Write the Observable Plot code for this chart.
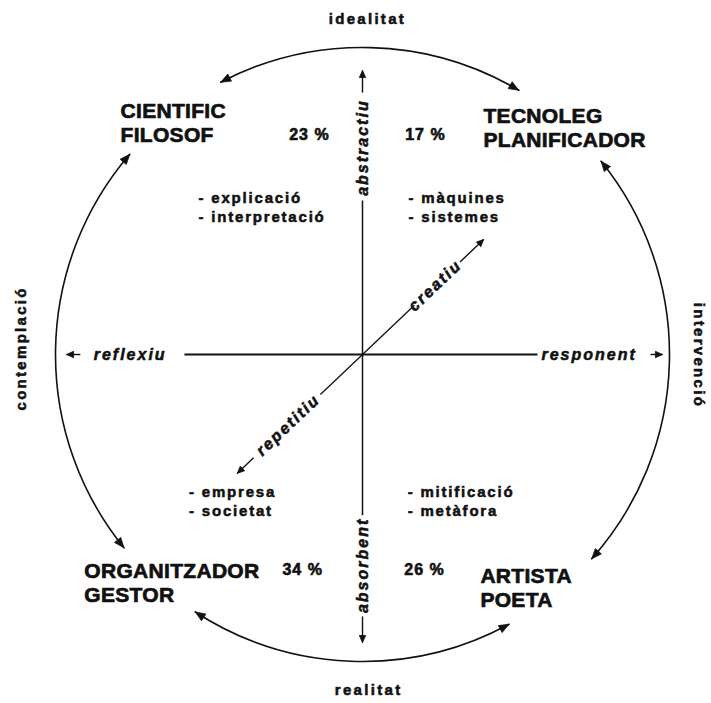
<!DOCTYPE html>
<html>
<head>
<meta charset="utf-8">
<script src="https://cdn.jsdelivr.net/npm/d3@7"></script>
<script src="https://cdn.jsdelivr.net/npm/@observablehq/plot@0.6"></script>
<style>
  html, body { margin: 0; padding: 0; background: #fff; }
  #chart { width: 711px; height: 703px; overflow: hidden; }
</style>
</head>
<body>
<div id="chart"></div>
<script>
// ---------------- DATA ----------------
const roles = ["CIENTIFIC\nFILOSOF", "TECNOLEG\nPLANIFICADOR", "ORGANITZADOR\nGESTOR", "ARTISTA\nPOETA"];
const percentages = [23, 17, 34, 26];
const activities = [
  ["explicació", "interpretació"],
  ["màquines", "sistemes"],
  ["empresa", "societat"],
  ["mitificació", "metàfora"]
];
const positivePoles = ["abstractiu", "responent", "creatiu"];
const negativePoles = ["absorbent", "reflexiu", "repetitiu"];
const cycleLabels = ["idealitat", "intervenció", "realitat", "contemplació"];

// ---------------- LAYOUT (unit-circle coordinates: centre 0,0, radius 1, y up) ----------------
const quadLayout = [
  {tx: -0.788, ty: 0.756, px: -0.173, py: 0.717, kx: -0.534, ky: 0.482},
  {tx: 0.394, ty: 0.739, px: 0.205, py: 0.717, kx: 0.150, ky: 0.482},
  {tx: -0.906, ty: -0.743, px: -0.195, py: -0.700, kx: -0.565, ky: -0.476},
  {tx: 0.384, ty: -0.759, px: 0.202, py: -0.700, kx: 0.147, ky: -0.476}
];
// angle of positive direction; per side: line end, label position, label anchor, arrow start, arrow tip
const axisLayout = [
  {angle: 90, rotate: -90, sw: 1.5,
   pos: {line: 0.502, label: 0.674, anchor: "middle", a0: 0.853, a1: 0.925},
   neg: {line: 0.524, label: 0.687, anchor: "middle", a0: 0.853, a1: 0.938}},
  {angle: 0, rotate: 0, sw: 2.2,
   pos: {line: 0.570, label: 0.583, anchor: "start", a0: 0.938, a1: 0.977},
   neg: {line: 0.580, label: 0.638, anchor: "end", a0: 0.919, a1: 0.964}},
  {angle: 43.5, rotate: -43.5, sw: 1.3,
   pos: {line: 0.233, label: 0.326, anchor: "middle", a0: 0.438, a1: 0.544},
   neg: {line: 0.189, label: 0.334, anchor: "middle", a0: 0.489, a1: 0.562}}
];
const arcLayout = [
  {from: 117.5, to: 59.4, lx: 0.016, ly: 1.091, rotate: 0},
  {from: 39, to: -41.7, lx: 1.095, ly: -0.003, rotate: 90},
  {from: 237, to: 298.5, lx: 0.020, ly: -1.094, rotate: 0},
  {from: 139.3, to: 219, lx: -1.111, ly: 0.020, rotate: -90}
];

const CX = 362, CY = 354, R = 307;
const rad = (d) => d * Math.PI / 180;
const px = (p) => p / R; // pixel length to unit length

// ---------------- DERIVED TABLES ----------------
const quads = roles.map((role, i) => ({
  role,
  pct: `${percentages[i]} %`,
  kw: activities[i].map((a) => "- " + a).join("\n"),
  ...quadLayout[i]
}));

const heads = [];
function addHead(id, x, y, dx, dy, len, half) {
  const n = Math.hypot(dx, dy); dx /= n; dy /= n;
  const bx = x - dx * px(len), by = y - dy * px(len);
  const nx = -dy * px(half), ny = dx * px(half);
  heads.push({id, x, y}, {id, x: bx + nx, y: by + ny}, {id, x: bx - nx, y: by - ny}, {id, x, y});
}

const axisLines = [], axisStubs = [], poleLabels = [];
axisLayout.forEach((a, i) => {
  const c = Math.cos(rad(a.angle)), s = Math.sin(rad(a.angle));
  axisLines.push({x1: -a.neg.line * c, y1: -a.neg.line * s, x2: a.pos.line * c, y2: a.pos.line * s, sw: a.sw});
  [[a.pos, 1, positivePoles[i]], [a.neg, -1, negativePoles[i]]].forEach(([side, sg, name], k) => {
    axisStubs.push({x1: sg * side.a0 * c, y1: sg * side.a0 * s, x2: sg * side.a1 * c, y2: sg * side.a1 * s, sw: a.sw});
    addHead(`ax${i}${k}`, sg * side.a1 * c, sg * side.a1 * s, sg * c, sg * s, 7, 3.2);
    poleLabels.push({text: name, x: sg * side.label * c, y: sg * side.label * s, rotate: a.rotate, anchor: side.anchor});
  });
});

const arcs = arcLayout.map((a, i) => {
  const sigma = Math.sign(a.to - a.from);
  const s = rad(a.from), e = rad(a.to);
  addHead(`arcE${i}`, Math.cos(e), Math.sin(e), sigma * -Math.sin(e), sigma * Math.cos(e), 10, 4);
  addHead(`arcS${i}`, Math.cos(s), Math.sin(s), -sigma * -Math.sin(s), -sigma * Math.cos(s), 10, 4);
  return {x1: Math.cos(s), y1: Math.sin(s), x2: Math.cos(e), y2: Math.sin(e),
          bend: -sigma * Math.abs(a.to - a.from) / 2, label: cycleLabels[i], lx: a.lx, ly: a.ly, rotate: a.rotate};
});

// ---------------- PLOT ----------------
const font = "'Liberation Sans', Arial, Helvetica, sans-serif";
const ink = "#111";
const textBase = {fontWeight: "bold", fontFamily: font, fill: ink, stroke: ink};
const marks = [
  ...arcs.map((a) => Plot.arrow([a], {x1: "x1", y1: "y1", x2: "x2", y2: "y2", bend: a.bend, headLength: 0, stroke: ink, strokeWidth: 1.6})),
  Plot.link(axisLines, {x1: "x1", y1: "y1", x2: "x2", y2: "y2", stroke: ink, strokeWidth: (d) => d.sw}),
  Plot.link(axisStubs, {x1: "x1", y1: "y1", x2: "x2", y2: "y2", stroke: ink, strokeWidth: 1.4}),
  Plot.line(heads, {x: "x", y: "y", z: "id", fill: ink, stroke: ink, strokeWidth: 0.8}),
  // 1 titles
  Plot.text(quads, {x: "tx", y: "ty", text: "role", textAnchor: "start", lineAnchor: "middle", lineHeight: 1.14,
    fontSize: 21, strokeWidth: 0.7, ...textBase}),
  // 2 percentages
  Plot.text(quads, {x: "px", y: "py", text: "pct", textAnchor: "middle", fontSize: 16, strokeWidth: 0.6, ...textBase}),
  // 3 keywords
  Plot.text(quads, {x: "kx", y: "ky", text: "kw", textAnchor: "start", lineAnchor: "middle", lineHeight: 1.22,
    fontSize: 15, strokeWidth: 0.55, ...textBase}),
  // 4-6 pole labels
  Plot.text(poleLabels.filter((d) => d.anchor === "middle"), {x: "x", y: "y", text: "text", rotate: "rotate", textAnchor: "middle",
    fontSize: 16, fontStyle: "italic", strokeWidth: 0.55, ...textBase}),
  Plot.text(poleLabels.filter((d) => d.anchor === "start"), {x: "x", y: "y", text: "text", textAnchor: "start",
    fontSize: 16, fontStyle: "italic", strokeWidth: 0.55, ...textBase}),
  Plot.text(poleLabels.filter((d) => d.anchor === "end"), {x: "x", y: "y", text: "text", textAnchor: "end",
    fontSize: 16, fontStyle: "italic", strokeWidth: 0.55, ...textBase}),
  // 7 cycle labels
  Plot.text(arcs, {x: "lx", y: "ly", text: "label", rotate: "rotate", textAnchor: "middle",
    fontSize: 15, strokeWidth: 0.55, ...textBase})
];

const chart = Plot.plot({
  width: 711, height: 703,
  marginTop: 0, marginRight: 0, marginBottom: 0, marginLeft: 0,
  x: {domain: [-1, 1], range: [CX - R, CX + R], axis: null},
  y: {domain: [-1, 1], range: [CY + R, CY - R], axis: null},
  style: {background: "#fff", overflow: "hidden"},
  marks
});

const spacing = [0.3, 1, 1.8, 2, 2, 2, 2.3];
chart.querySelectorAll('g[aria-label="text"]').forEach((g, i) => {
  g.style.letterSpacing = `${spacing[i] ?? 0}px`;
});
document.getElementById("chart").appendChild(chart);
</script>
</body>
</html>
